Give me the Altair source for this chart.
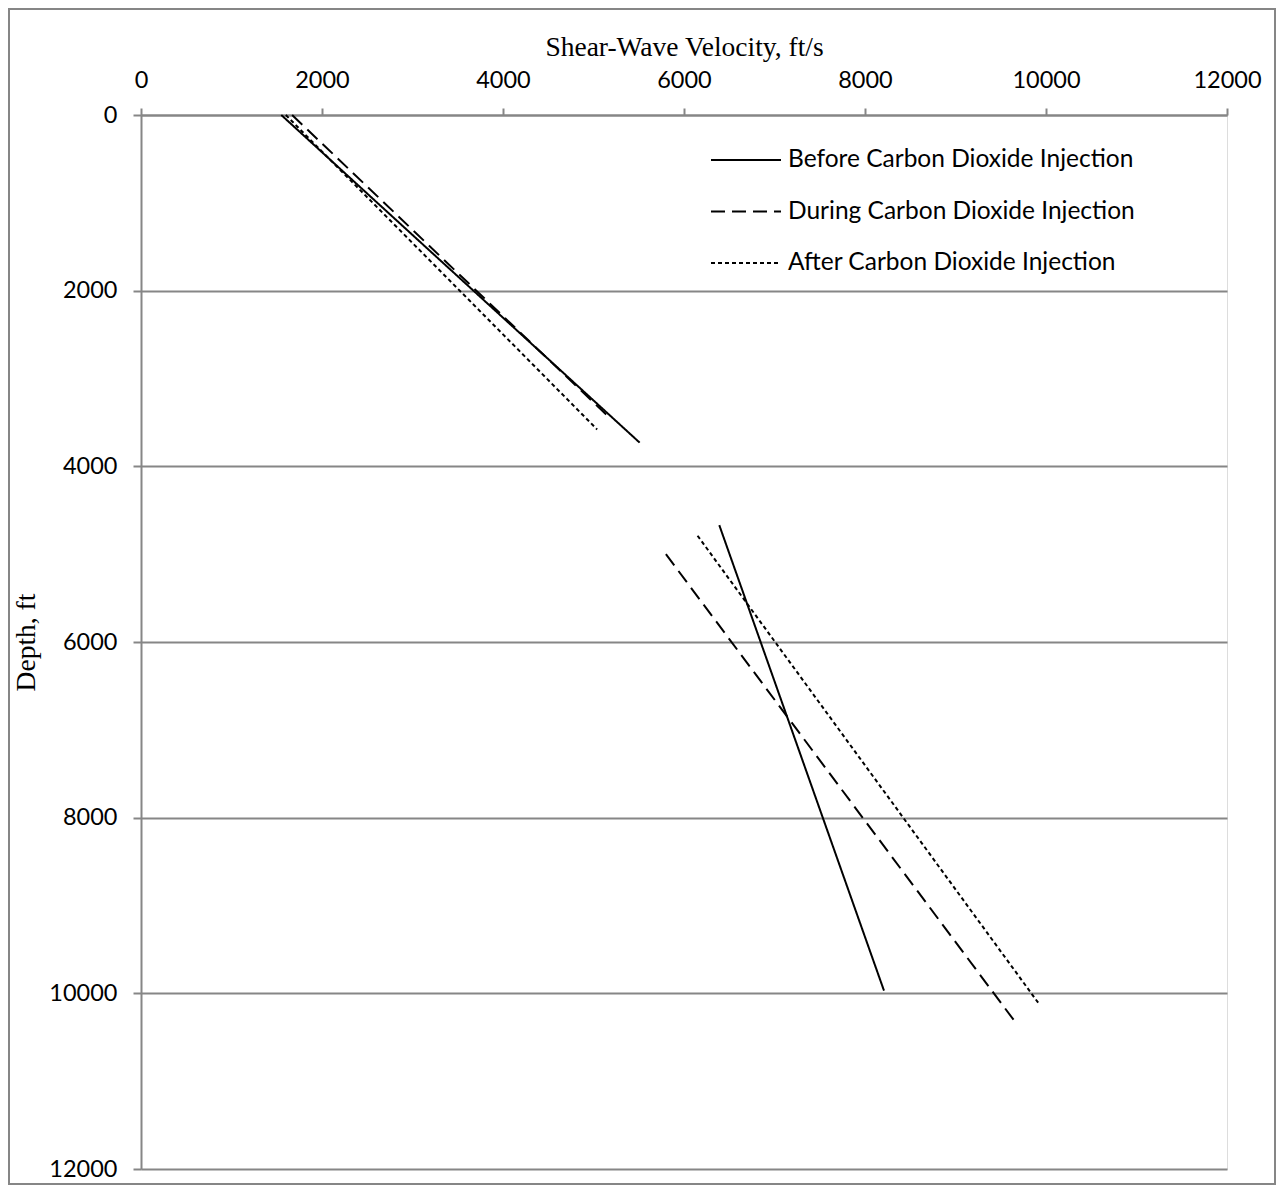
import altair as alt
import pandas as pd

# Series (velocity ft/s, depth ft), two segments per condition
conditions = ["Before Carbon Dioxide Injection",
              "During Carbon Dioxide Injection",
              "After Carbon Dioxide Injection"]

before_upper_v = [1550, 5510]
before_upper_d = [0, 3730]
before_lower_v = [6390, 8210]
before_lower_d = [4670, 9970]

during_upper_v = [1670, 5150]
during_upper_d = [0, 3420]
during_lower_v = [5800, 9670]
during_lower_d = [5000, 10340]

after_upper_v = [1600, 5040]
after_upper_d = [0, 3580]
after_lower_v = [6150, 9930]
after_lower_d = [4790, 10130]

rows = []
def add(cond, seg, vs, ds):
    for v, d in zip(vs, ds):
        rows.append({"Condition": cond, "Segment": cond + seg, "Velocity": v, "Depth": d})

add(conditions[0], "U", before_upper_v, before_upper_d)
add(conditions[0], "L", before_lower_v, before_lower_d)
add(conditions[1], "U", during_upper_v, during_upper_d)
add(conditions[1], "L", during_lower_v, during_lower_d)
add(conditions[2], "U", after_upper_v, after_upper_d)
add(conditions[2], "L", after_lower_v, after_lower_d)
df = pd.DataFrame(rows)

W, H = 1086, 1054
AX = "#868686"

lines = alt.Chart(df).mark_line(color="black", strokeWidth=2).encode(
    x=alt.X("Velocity:Q",
            scale=alt.Scale(domain=[0, 12000], nice=False),
            axis=alt.Axis(orient="top", title="Shear-Wave Velocity, ft/s",
                          values=list(range(0, 12001, 2000)), format="d",
                          grid=False, domainColor=AX, tickColor=AX, tickSize=7,
                          domainWidth=2, tickWidth=2, labelFlush=False,
                          labelFont="Lato", labelFontSize=23.5, labelColor="black",
                          labelPadding=16, titleFont="Liberation Serif",
                          titleFontSize=27.5, titleFontWeight="normal",
                          titleColor="black", titlePadding=7)),
    y=alt.Y("Depth:Q",
            scale=alt.Scale(domain=[0, 12000], reverse=True, nice=False),
            axis=alt.Axis(title="Depth, ft", values=list(range(0, 12001, 2000)),
                          format="d", grid=True, gridColor=AX, gridWidth=2,
                          domainColor=AX, tickColor=AX, tickSize=8,
                          domainWidth=2, tickWidth=2, labelFlush=False,
                          labelFont="Lato", labelFontSize=23.5, labelColor="black",
                          labelPadding=16, titleFont="Liberation Serif",
                          titleFontSize=27.5, titleFontWeight="normal",
                          titleColor="black", titlePadding=8)),
    strokeDash=alt.StrokeDash("Condition:N",
                              scale=alt.Scale(domain=conditions,
                                              range=[[1, 0], [14, 7], [4, 3]]),
                              legend=alt.Legend(title=None, orient="none",
                                                legendX=569, legendY=9,
                                                symbolType="stroke",
                                                symbolSize=4900,
                                                symbolStrokeWidth=2,
                                                symbolStrokeColor="black",
                                                labelFont="Lato",
                                                labelFontSize=24.5,
                                                labelColor="black",
                                                labelOffset=6,
                                                rowPadding=3.5,
                                                labelLimit=500)),
    detail="Segment:N",
    order="Depth:Q",
)

border = alt.Chart(pd.DataFrame({"a": [0]})).mark_rect(
    fill=None, stroke=AX, strokeWidth=2, clip=False
).encode(x=alt.value(-132), x2=alt.value(1134), y=alt.value(-106), y2=alt.value(1069))

chart = alt.layer(border, lines).properties(
    width=W, height=H,
    autosize=alt.AutoSizeParams(type="none"),
    padding={"left": 133, "top": 107, "right": 49, "bottom": 17},
).configure_view(stroke=None).configure(background="white")

chart.save("out.html", embed_options={"renderer": "svg", "actions": False})
